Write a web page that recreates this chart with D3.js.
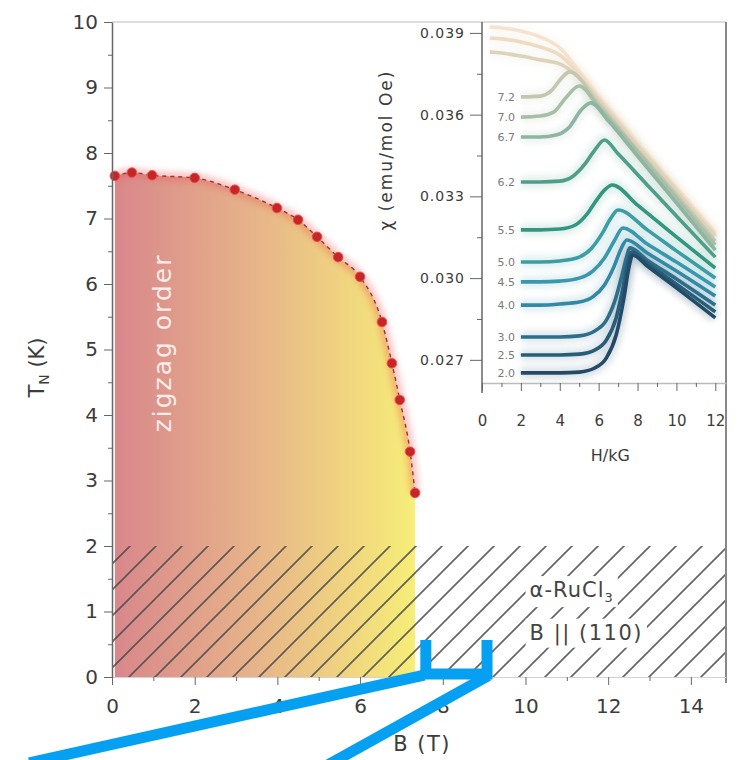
<!DOCTYPE html>
<html lang="en">
<head>
<meta charset="UTF-8">
<title>alpha-RuCl3 phase diagram</title>
<style>
body { margin: 0; background: #fff; }
text { font-family: 'DejaVu Sans', 'Liberation Sans', sans-serif; }
.axis text { fill: #3c3c3c; }
.axis line { stroke: #666; }
</style>
</head>
<body>
<svg width="742" height="760"></svg>
<script src="https://cdn.jsdelivr.net/npm/d3@7"></script>
<script>

// main panel: Neel temperature vs field
var fieldB = [0.07, 0.48, 0.97, 2.0, 2.97, 3.99, 4.5, 4.96, 5.47, 6.0, 6.53, 6.77, 6.96, 7.21, 7.33];
var tempTN = [7.65, 7.7, 7.66, 7.62, 7.44, 7.16, 6.98, 6.72, 6.41, 6.11, 5.42, 4.79, 4.23, 3.44, 2.81];
var xTicks = [0, 2, 4, 6, 8, 10, 12, 14];
var yTicks = [0, 1, 2, 3, 4, 5, 6, 7, 8, 9, 10];
var hatchTop = 2;

// inset: susceptibility vs field at several temperatures
var curveLabels = ["", "", "", "7.2", "7.0", "6.7", "6.2", "5.5", "5.0", "4.5", "4.0", "3.0", "2.5", "2.0"];
var curveField = [
    [0.4, 1, 2, 3, 4, 5, 6, 7, 8, 9, 10, 11, 12],
    [0.4, 1, 2, 3, 4, 5, 6, 7, 8, 9, 10, 11, 12],
    [0.4, 1, 2, 3, 4, 5, 6, 7, 8, 9, 10, 11, 12],
    [2, 3, 3.6, 4.1, 4.5, 6, 8, 10, 12],
    [2, 3, 3.7, 4.3, 5.0, 6, 8, 10, 12],
    [2, 3, 3.8, 4.5, 5.1, 5.6, 6.5, 8, 10, 12],
    [2, 3, 4, 4.7, 5.3, 5.8, 6.3, 7, 8.5, 10, 12],
    [2, 3, 4, 4.8, 5.4, 5.9, 6.3, 6.7, 8, 10, 12],
    [2, 3, 4, 5, 5.6, 6.2, 6.6, 7.0, 8.5, 10, 12],
    [2, 3, 4, 5, 5.7, 6.3, 6.8, 7.25, 8.5, 10, 12],
    [2, 3, 4, 5, 5.7, 6.3, 6.8, 7.15, 7.45, 8.5, 10, 12],
    [2, 3, 4, 5, 5.8, 6.4, 6.85, 7.2, 7.45, 7.6, 8.5, 10, 12],
    [2, 3, 4, 5, 5.8, 6.4, 6.9, 7.25, 7.5, 7.7, 8.5, 10, 12],
    [2, 3, 4, 5, 5.8, 6.4, 6.9, 7.3, 7.55, 7.75, 8.5, 10, 12]
];
var curveChi = [
    [0.03922, 0.03918, 0.03907, 0.03885, 0.03845, 0.03760, 0.03668, 0.03584, 0.03500, 0.03415, 0.03334, 0.03250, 0.03169],
    [0.03881, 0.03878, 0.03867, 0.03848, 0.03819, 0.03749, 0.03661, 0.03577, 0.03492, 0.03411, 0.03327, 0.03243, 0.03162],
    [0.03830, 0.03826, 0.03815, 0.03801, 0.03786, 0.03735, 0.03654, 0.03569, 0.03485, 0.03404, 0.03320, 0.03235, 0.03155],
    [0.03665, 0.03668, 0.03690, 0.03735, 0.03757, 0.03639, 0.03470, 0.03305, 0.03136],
    [0.03591, 0.03595, 0.03610, 0.03661, 0.03705, 0.03628, 0.03463, 0.03294, 0.03122],
    [0.03518, 0.03518, 0.03525, 0.03555, 0.03617, 0.03643, 0.03577, 0.03448, 0.03276, 0.03103],
    [0.03353, 0.03353, 0.03356, 0.03375, 0.03419, 0.03470, 0.03507, 0.03456, 0.03342, 0.03228, 0.03077],
    [0.03177, 0.03177, 0.03180, 0.03195, 0.03235, 0.03287, 0.03323, 0.03342, 0.03268, 0.03151, 0.03037],
    [0.03059, 0.03059, 0.03063, 0.03077, 0.03107, 0.03166, 0.03217, 0.03250, 0.03177, 0.03100, 0.03000],
    [0.02986, 0.02986, 0.02989, 0.03000, 0.03026, 0.03074, 0.03136, 0.03184, 0.03125, 0.03059, 0.02967],
    [0.02901, 0.02901, 0.02905, 0.02912, 0.02931, 0.02975, 0.03044, 0.03107, 0.03140, 0.03092, 0.03026, 0.02934],
    [0.02784, 0.02784, 0.02784, 0.02788, 0.02806, 0.02846, 0.02920, 0.03011, 0.03081, 0.03111, 0.03066, 0.02997, 0.02901],
    [0.02718, 0.02718, 0.02718, 0.02721, 0.02736, 0.02773, 0.02854, 0.02964, 0.03059, 0.03096, 0.03055, 0.02978, 0.02876],
    [0.02652, 0.02652, 0.02652, 0.02655, 0.02670, 0.02707, 0.02791, 0.02927, 0.03037, 0.03085, 0.03044, 0.02964, 0.02854]
];
var insetXTicks = [0, 2, 4, 6, 8, 10, 12];
var insetYTicks = [0.027, 0.030, 0.033, 0.036, 0.039];

// blue marker drawn over the figure, in (B, T) units
var annotBracket = [[7.59, 0.565], [7.59, 0.046], [9.07, 0.046], [9.07, 0.565]];
var annotLeft = [[7.55, 0.03], [-2.0, -1.31]];
var annotRight = [[9.1, 0.02], [5.0, -1.42]];

var curveColors = ["#f4e4cf", "#ecdcc4", "#ddd3bb", "#c4c6af", "#a9bea8", "#8db5a2", "#4f9e88",
    "#33967f", "#3a9ea2", "#3a98ad", "#3389a4", "#2d6f8a", "#285d78", "#234a66"];

var svg = d3.select("svg");
var defs = svg.append("defs");

var x = d3.scaleLinear().domain([0, 14.85]).range([112, 726]);
var y = d3.scaleLinear().domain([0, 10]).range([677, 22]);

var grad = defs.append("linearGradient")
    .attr("id", "phaseFill")
    .attr("gradientUnits", "userSpaceOnUse")
    .attr("x1", x(0)).attr("x2", x(7.4)).attr("y1", 0).attr("y2", 0);
grad.append("stop").attr("offset", "0%").attr("stop-color", "#d8868b");
grad.append("stop").attr("offset", "45%").attr("stop-color", "#e6b28a");
grad.append("stop").attr("offset", "100%").attr("stop-color", "#f7ef78");

var hatch = defs.append("pattern")
    .attr("id", "hatch")
    .attr("patternUnits", "userSpaceOnUse")
    .attr("width", 26).attr("height", 26);
hatch.append("path")
    .attr("d", "M0,26 L26,0 M-6.5,6.5 L6.5,-6.5 M19.5,32.5 L32.5,19.5")
    .attr("stroke", "#4a4a4a")
    .attr("stroke-width", 1.7);

defs.append("filter").attr("id", "blur")
    .attr("x", "-20%").attr("y", "-20%").attr("width", "140%").attr("height", "140%")
    .append("feGaussianBlur").attr("stdDeviation", 3);

var pts = d3.zip(fieldB, tempTN);

// ordered phase region
svg.append("path")
    .datum(pts)
    .attr("fill", "url(#phaseFill)")
    .attr("d", d3.area()
        .x(function(d) { return x(d[0]); })
        .y0(y(0))
        .y1(function(d) { return y(d[1]); })
        .curve(d3.curveMonotoneX));

// hatched low temperature band
svg.append("rect")
    .attr("x", x(0))
    .attr("y", y(hatchTop))
    .attr("width", x(14.85) - x(0))
    .attr("height", y(0) - y(hatchTop))
    .attr("fill", "url(#hatch)")
    .attr("opacity", 0.85);

var tnLine = d3.line()
    .x(function(d) { return x(d[0]); })
    .y(function(d) { return y(d[1]); })
    .curve(d3.curveMonotoneX);

svg.append("path")
    .datum(pts)
    .attr("d", tnLine)
    .attr("fill", "none")
    .attr("stroke", "#f05050")
    .attr("stroke-width", 9)
    .attr("opacity", 0.35)
    .attr("filter", "url(#blur)");

svg.append("path")
    .datum(pts)
    .attr("d", tnLine)
    .attr("fill", "none")
    .attr("stroke", "#8c3b3b")
    .attr("stroke-width", 1.4)
    .attr("stroke-dasharray", "4,4");

svg.selectAll(".tn")
    .data(pts)
    .enter()
    .append("circle")
    .attr("class", "tn")
    .attr("cx", function(d) { return x(d[0]); })
    .attr("cy", function(d) { return y(d[1]); })
    .attr("r", 4.8)
    .attr("fill", "#c72626")
    .attr("stroke", "#e85252")
    .attr("stroke-width", 1);

svg.append("text")
    .attr("transform", "translate(" + (x(1.2) + 9) + "," + y(5.1) + ") rotate(-90)")
    .attr("text-anchor", "middle")
    .attr("fill", "#fff")
    .attr("fill-opacity", 0.85)
    .style("font-size", "25px")
    .style("letter-spacing", "2px")
    .text("zigzag order");

// sample / field labels on white boxes
var lab1 = svg.append("text")
    .attr("x", x(10.1)).attr("y", y(1.22))
    .attr("fill", "#444")
    .style("font-size", "21px")
    .style("letter-spacing", "1px");
lab1.append("tspan").text("α-RuCl");
lab1.append("tspan").attr("dy", 5).style("font-size", "13px").text("3");

var lab2 = svg.append("text")
    .attr("x", x(10.1)).attr("y", y(0.57))
    .attr("fill", "#444")
    .style("font-size", "21px")
    .style("letter-spacing", "1.5px")
    .text("B || (110)");

[lab1, lab2].forEach(function(t) {
    var b = t.node().getBBox();
    svg.insert("rect", function() { return t.node(); })
        .attr("x", b.x - 4).attr("y", b.y - 2)
        .attr("width", b.width + 8).attr("height", b.height + 4)
        .attr("fill", "#fff");
});

// frame
svg.append("line")
    .attr("x1", x(0)).attr("x2", x(14.85)).attr("y1", y(10)).attr("y2", y(10))
    .attr("stroke", "#ddd").attr("stroke-width", 2);
svg.append("line")
    .attr("x1", x(14.85)).attr("x2", x(14.85)).attr("y1", y(10)).attr("y2", y(0) + 6)
    .attr("stroke", "#888").attr("stroke-width", 2);

// main axes
var gx = svg.append("g").attr("class", "axis")
    .attr("transform", "translate(0," + y(0) + ")")
    .call(d3.axisBottom(x).tickValues(xTicks).tickSize(8).tickPadding(14).tickSizeOuter(0));
gx.select(".domain").attr("stroke", "#d8d0d0");
gx.selectAll("text").style("font-size", "20px");
svg.append("g").attr("class", "axis")
    .attr("transform", "translate(0," + y(0) + ")")
    .call(d3.axisBottom(x).tickValues(d3.range(1, 15, 2)).tickSize(4).tickFormat(""))
    .select(".domain").remove();

var gy = svg.append("g").attr("class", "axis")
    .attr("transform", "translate(" + x(0) + ",0)")
    .call(d3.axisLeft(y).tickValues(yTicks).tickSize(8).tickPadding(6).tickSizeOuter(0));
gy.select(".domain").attr("stroke", "#666").attr("stroke-width", 1.5);
gy.selectAll("text").style("font-size", "20px");
svg.append("g").attr("class", "axis")
    .attr("transform", "translate(" + x(0) + ",0)")
    .call(d3.axisLeft(y).tickValues(d3.range(0.5, 10, 1)).tickSize(4).tickFormat(""))
    .select(".domain").remove();

var ylab = svg.append("text")
    .attr("transform", "translate(" + 44 + "," + (y(5) + 18) + ") rotate(-90)")
    .attr("text-anchor", "middle")
    .attr("fill", "#3c3c3c")
    .style("font-size", "21px");
ylab.append("tspan").text("T");
ylab.append("tspan").attr("dy", 5).style("font-size", "14px").text("N");
ylab.append("tspan").attr("dy", -5).text(" (K)");

svg.append("text")
    .attr("x", x(7.5)).attr("y", y(0) + 74)
    .attr("text-anchor", "middle")
    .attr("fill", "#3c3c3c")
    .style("font-size", "21px")
    .style("letter-spacing", "1.5px")
    .text("B (T)");

// inset
var ix = d3.scaleLinear().domain([0, 12.55]).range([482, 726]);
var iy = d3.scaleLinear().domain([0.02615, 0.0394]).range([383, 22]);

var chiLine = d3.line()
    .x(function(d) { return ix(d[0]); })
    .y(function(d) { return iy(d[1]); })
    .curve(d3.curveMonotoneX);

var curves = curveField.map(function(f, i) { return d3.zip(f, curveChi[i]); });

svg.append("g").selectAll("path")
    .data(curves)
    .enter()
    .append("path")
    .attr("d", chiLine)
    .attr("fill", "none")
    .attr("stroke", function(d, i) { return curveColors[i]; })
    .attr("stroke-width", 12)
    .attr("opacity", 0.15)
    .attr("filter", "url(#blur)");

svg.append("g").selectAll("path")
    .data(curves)
    .enter()
    .append("path")
    .attr("d", chiLine)
    .attr("fill", "none")
    .attr("stroke", function(d, i) { return curveColors[i]; })
    .attr("stroke-width", 3.6);

svg.append("g").selectAll("text")
    .data(curves)
    .enter()
    .append("text")
    .attr("x", ix(1.7))
    .attr("y", function(d) { return iy(d[0][1]); })
    .attr("dy", "0.35em")
    .attr("text-anchor", "end")
    .attr("fill", "#7a7a7a")
    .style("font-size", "11px")
    .text(function(d, i) { return curveLabels[i]; });

var igx = svg.append("g").attr("class", "axis")
    .attr("transform", "translate(0," + iy(0.02615) + ")")
    .call(d3.axisBottom(ix).tickValues(insetXTicks).tickSize(8).tickPadding(24).tickSizeOuter(0));
igx.select(".domain").attr("stroke", "#bbb").attr("stroke-width", 1.5);
igx.selectAll("text").style("font-size", "15px");
svg.append("g").attr("class", "axis")
    .attr("transform", "translate(0," + iy(0.02615) + ")")
    .call(d3.axisBottom(ix).tickValues(d3.range(1, 13, 2)).tickSize(4).tickFormat(""))
    .select(".domain").remove();

var igy = svg.append("g").attr("class", "axis")
    .attr("transform", "translate(" + ix(0) + ",0)")
    .call(d3.axisLeft(iy).tickValues(insetYTicks).tickFormat(d3.format(".3f"))
        .tickSize(12).tickPadding(5).tickSizeOuter(0));
igy.select(".domain").remove();
igy.selectAll("text").style("font-size", "14px").style("letter-spacing", "1px");
svg.append("g").attr("class", "axis")
    .attr("transform", "translate(" + ix(0) + ",0)")
    .call(d3.axisLeft(iy).tickValues([0.0285, 0.0315, 0.0345, 0.0375]).tickSize(5).tickFormat(""))
    .select(".domain").remove();
svg.append("line")
    .attr("x1", ix(0)).attr("x2", ix(0))
    .attr("y1", iy(0.0394)).attr("y2", iy(0.02615) + 10)
    .attr("stroke", "#666").attr("stroke-width", 1.5);

svg.append("text")
    .attr("x", ix(6.6)).attr("y", iy(0.02615) + 78)
    .attr("text-anchor", "middle")
    .attr("fill", "#3c3c3c")
    .style("font-size", "16px")
    .text("H/kG");

svg.append("text")
    .attr("transform", "translate(" + 392 + "," + iy(0.0347) + ") rotate(-90)")
    .attr("text-anchor", "middle")
    .attr("fill", "#3c3c3c")
    .style("font-size", "17px")
    .style("letter-spacing", "2px")
    .text("χ (emu/mol Oe)");

// blue overlay
var annotLine = d3.line()
    .x(function(d) { return x(d[0]); })
    .y(function(d) { return y(d[1]); });

[annotBracket, annotLeft, annotRight].forEach(function(a) {
    svg.append("path")
        .datum(a)
        .attr("d", annotLine)
        .attr("fill", "none")
        .attr("stroke", "#06a0f2")
        .attr("stroke-width", 11)
        .attr("stroke-linejoin", "miter");
});

</script>
</body>
</html>
